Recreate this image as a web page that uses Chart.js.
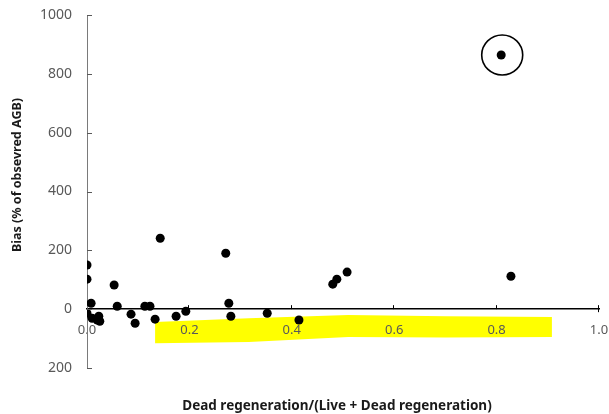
<!DOCTYPE html>
<html>
<head>
<meta charset="utf-8">
<script src="https://cdn.jsdelivr.net/npm/chart.js@4.4.3/dist/chart.umd.min.js"></script>
<style>
  html, body { margin: 0; padding: 0; background: #fff; }
  #wrap { width: 609px; height: 414px; }
</style>
</head>
<body>
<div id="wrap"><canvas id="bias-chart" width="609" height="414"></canvas></div>
<script>
// values
const deadRatio = [0.000, 0.000, 0.053, 0.008, 0.059, 0.000, 0.010, 0.020, 0.023, 0.025,
  0.086, 0.094, 0.113, 0.123, 0.133, 0.143, 0.174, 0.193, 0.271, 0.277,
  0.281, 0.352, 0.414, 0.480, 0.488, 0.508, 0.809, 0.828];
const biasPct = [150, 102, 82, 20, 10, -14, -31, -37, -24, -41,
  -17, -48, 10, 10, -34, 241, -24, -7, 190, 20,
  -24, -14, -37, 85, 102, 126, 864, 112];
const outlierIndex = 26;

const xTicks = [0, 0.2, 0.4, 0.6, 0.8, 1.0];
const yTicks = [-200, 0, 200, 400, 600, 800, 1000];

// yellow marker band (data units)
const bandX = [0.133, 0.316, 0.51, 0.7, 0.908];
const bandTop = [-44, -31, -20, -24, -27];
const bandBottom = [-116, -112, -95, -96, -95];

const xTitle = "Dead regeneration/(Live + Dead regeneration)";
const yTitle = "Bias (% of obsevred AGB)";

const FONT = "'Noto Sans', 'Open Sans', sans-serif";
const TICK_COLOR = "#595959";

// extras: highlight band, inward tick marks, outlier ring, axis titles
const decorations = {
  id: "decorations",
  beforeDraw(chart) {
    const { ctx, scales: { x, y } } = chart;
    ctx.save();
    ctx.fillStyle = "#ffff00";
    ctx.beginPath();
    bandX.forEach((v, i) => {
      const px = x.getPixelForValue(v), py = y.getPixelForValue(bandTop[i]);
      i ? ctx.lineTo(px, py) : ctx.moveTo(px, py);
    });
    for (let i = bandX.length - 1; i >= 0; i--)
      ctx.lineTo(x.getPixelForValue(bandX[i]), y.getPixelForValue(bandBottom[i]));
    ctx.closePath();
    ctx.fill();
    ctx.restore();
  },
  afterDraw(chart) {
    const { ctx, scales: { x, y } } = chart;
    const x0 = x.getPixelForValue(0), y0 = y.getPixelForValue(0);
    ctx.save();

    // y ticks point into the plot
    ctx.strokeStyle = "#595959";
    ctx.lineWidth = 1;
    yTicks.forEach((v) => {
      const py = Math.round(y.getPixelForValue(v)) + 0.5;
      ctx.beginPath();
      ctx.moveTo(x0, py);
      ctx.lineTo(x0 + 5, py);
      ctx.stroke();
    });

    // x ticks point up
    ctx.strokeStyle = "#000";
    xTicks.slice(1).forEach((v) => {
      const px = Math.round(x.getPixelForValue(v)) - 0.5;
      ctx.beginPath();
      ctx.moveTo(px, y0 - 4);
      ctx.lineTo(px, y0 + (v === 1 ? 3 : 0));
      ctx.stroke();
    });

    // ring round the outlier
    const cx = x.getPixelForValue(deadRatio[outlierIndex]) + 1;
    const cy = y.getPixelForValue(biasPct[outlierIndex]);
    ctx.lineWidth = 1.6;
    ctx.beginPath();
    ctx.ellipse(cx, cy, 20.5, 20, 0, 0, Math.PI * 2);
    ctx.stroke();

    // axis titles
    ctx.fillStyle = "#1a1a1a";
    ctx.textAlign = "center";
    ctx.textBaseline = "middle";
    ctx.font = "bold 13.5px " + FONT;
    ctx.fillText(xTitle, 337, 406);
    ctx.font = "bold 12.5px " + FONT;
    ctx.translate(17, 175);
    ctx.rotate(-Math.PI / 2);
    ctx.fillText(yTitle, 0, 0);
    ctx.restore();
  },
};

new Chart(document.getElementById("bias-chart"), {
  type: "scatter",
  data: {
    datasets: [
      {
        data: deadRatio.map((v, i) => ({ x: v, y: biasPct[i] })),
        backgroundColor: "#000",
        borderWidth: 0,
        pointRadius: 4.5,
        pointHoverRadius: 4.5,
      },
    ],
  },
  options: {
    responsive: false,
    animation: false,
    layout: { padding: { left: 0, right: 10, top: 15, bottom: 46 } },
    plugins: {
      legend: { display: false },
      tooltip: { enabled: false },
    },
    scales: {
      x: {
        type: "linear",
        min: 0,
        max: 1,
        position: { y: 0 },
        afterBuildTicks: (s) => { s.ticks = xTicks.map((v) => ({ value: v })); },
        afterFit: (s) => { s.paddingLeft = 0; s.paddingRight = 0; },
        grid: { display: false, drawTicks: false },
        border: { display: true, color: "#000", width: 1.5 },
        ticks: {
          padding: 13,
          color: TICK_COLOR,
          font: { family: FONT, size: 13 },
          maxRotation: 0,
          autoSkip: false,
          callback: (v) => v.toFixed(1),
        },
      },
      y: {
        min: -200,
        max: 1000,
        afterBuildTicks: (s) => { s.ticks = yTicks.map((v) => ({ value: v })); },
        afterFit: (s) => { s.width = 87; s.paddingTop = 0; s.paddingBottom = 0; },
        grid: { display: false, drawTicks: false },
        border: { display: true, color: "#7a7a7a", width: 1 },
        ticks: {
          padding: 15,
          color: TICK_COLOR,
          font: { family: FONT, size: 14 },
          autoSkip: false,
          callback: (v) => String(Math.abs(v)),
        },
      },
    },
  },
  plugins: [decorations],
});
</script>
</body>
</html>
